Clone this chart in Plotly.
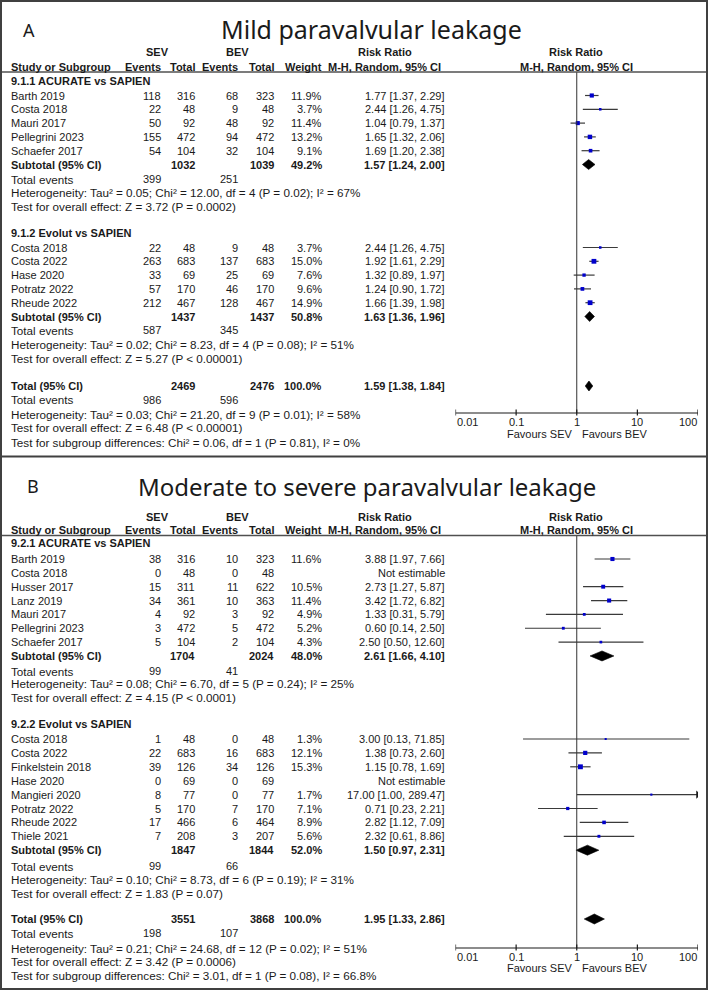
import math
import plotly.graph_objects as go

W, H = 708, 990
BODY = "Liberation Sans, Arial, sans-serif"
TITLEF = "Noto Sans, Open Sans, sans-serif"
TXT = "#1a1a1a"

# ---------------- DATA : Panel A (Mild paravalvular leakage) ----------------
a_title = "Mild paravalvular leakage"
a1_name = "9.1.1 ACURATE vs SAPIEN"
a1_study = ["Barth 2019", "Costa 2018", "Mauri 2017", "Pellegrini 2023", "Schaefer 2017"]
a1_sev_ev = [118, 22, 50, 155, 54]
a1_sev_n = [316, 48, 92, 472, 104]
a1_bev_ev = [68, 9, 48, 94, 32]
a1_bev_n = [323, 48, 92, 472, 104]
a1_w = [11.9, 3.7, 11.4, 13.2, 9.1]
a1_rr = [1.77, 2.44, 1.04, 1.65, 1.69]
a1_lo = [1.37, 1.26, 0.79, 1.32, 1.20]
a1_hi = [2.29, 4.75, 1.37, 2.06, 2.38]
a1_sub_n = [1032, 1039]
a1_sub_w = 49.2
a1_sub_ci = [1.57, 1.24, 2.00]
a1_events = [399, 251]
a1_het = "Heterogeneity: Tau² = 0.05; Chi² = 12.00, df = 4 (P = 0.02); I² = 67%"
a1_test = "Test for overall effect: Z = 3.72 (P = 0.0002)"

a2_name = "9.1.2 Evolut vs SAPIEN"
a2_study = ["Costa 2018", "Costa 2022", "Hase 2020", "Potratz 2022", "Rheude 2022"]
a2_sev_ev = [22, 263, 33, 57, 212]
a2_sev_n = [48, 683, 69, 170, 467]
a2_bev_ev = [9, 137, 25, 46, 128]
a2_bev_n = [48, 683, 69, 170, 467]
a2_w = [3.7, 15.0, 7.6, 9.6, 14.9]
a2_rr = [2.44, 1.92, 1.32, 1.24, 1.66]
a2_lo = [1.26, 1.61, 0.89, 0.90, 1.39]
a2_hi = [4.75, 2.29, 1.97, 1.72, 1.98]
a2_sub_n = [1437, 1437]
a2_sub_w = 50.8
a2_sub_ci = [1.63, 1.36, 1.96]
a2_events = [587, 345]
a2_het = "Heterogeneity: Tau² = 0.02; Chi² = 8.23, df = 4 (P = 0.08); I² = 51%"
a2_test = "Test for overall effect: Z = 5.27 (P < 0.00001)"

a_tot_n = [2469, 2476]
a_tot_ci = [1.59, 1.38, 1.84]
a_tot_events = [986, 596]
a_tot_het = "Heterogeneity: Tau² = 0.03; Chi² = 21.20, df = 9 (P = 0.01); I² = 58%"
a_tot_test = "Test for overall effect: Z = 6.48 (P < 0.00001)"
a_tot_sub = "Test for subgroup differences: Chi² = 0.06, df = 1 (P = 0.81), I² = 0%"

# ---------------- DATA : Panel B (Moderate to severe) ----------------
b_title = "Moderate to severe paravalvular leakage"
b1_name = "9.2.1 ACURATE vs SAPIEN"
b1_study = ["Barth 2019", "Costa 2018", "Husser 2017", "Lanz 2019", "Mauri 2017",
            "Pellegrini 2023", "Schaefer 2017"]
b1_sev_ev = [38, 0, 15, 34, 4, 3, 5]
b1_sev_n = [316, 48, 311, 361, 92, 472, 104]
b1_bev_ev = [10, 0, 11, 10, 3, 5, 2]
b1_bev_n = [323, 48, 622, 363, 92, 472, 104]
b1_w = [11.6, None, 10.5, 11.4, 4.9, 5.2, 4.3]
b1_rr = [3.88, None, 2.73, 3.42, 1.33, 0.60, 2.50]
b1_lo = [1.97, None, 1.27, 1.72, 0.31, 0.14, 0.50]
b1_hi = [7.66, None, 5.87, 6.82, 5.79, 2.50, 12.60]
b1_sub_n = [1704, 2024]
b1_sub_w = 48.0
b1_sub_ci = [2.61, 1.66, 4.10]
b1_events = [99, 41]
b1_het = "Heterogeneity: Tau² = 0.08; Chi² = 6.70, df = 5 (P = 0.24); I² = 25%"
b1_test = "Test for overall effect: Z = 4.15 (P < 0.0001)"

b2_name = "9.2.2 Evolut vs SAPIEN"
b2_study = ["Costa 2018", "Costa 2022", "Finkelstein 2018", "Hase 2020", "Mangieri 2020",
            "Potratz 2022", "Rheude 2022", "Thiele 2021"]
b2_sev_ev = [1, 22, 39, 0, 8, 5, 17, 7]
b2_sev_n = [48, 683, 126, 69, 77, 170, 466, 208]
b2_bev_ev = [0, 16, 34, 0, 0, 7, 6, 3]
b2_bev_n = [48, 683, 126, 69, 77, 170, 464, 207]
b2_w = [1.3, 12.1, 15.3, None, 1.7, 7.1, 8.9, 5.6]
b2_rr = [3.00, 1.38, 1.15, None, 17.00, 0.71, 2.82, 2.32]
b2_lo = [0.13, 0.73, 0.78, None, 1.00, 0.23, 1.12, 0.61]
b2_hi = [71.85, 2.60, 1.69, None, 289.47, 2.21, 7.09, 8.86]
b2_sub_n = [1847, 1844]
b2_sub_w = 52.0
b2_sub_ci = [1.50, 0.97, 2.31]
b2_events = [99, 66]
b2_het = "Heterogeneity: Tau² = 0.10; Chi² = 8.73, df = 6 (P = 0.19); I² = 31%"
b2_test = "Test for overall effect: Z = 1.83 (P = 0.07)"

b_tot_n = [3551, 3868]
b_tot_ci = [1.95, 1.33, 2.86]
b_tot_events = [198, 107]
b_tot_het = "Heterogeneity: Tau² = 0.21; Chi² = 24.68, df = 12 (P = 0.02); I² = 51%"
b_tot_test = "Test for overall effect: Z = 3.42 (P = 0.0006)"
b_tot_sub = "Test for subgroup differences: Chi² = 3.01, df = 1 (P = 0.08), I² = 66.8%"

axis_ticks = [0.01, 0.1, 1, 10, 100]
axis_ticktext = ["0.01", "0.1", "1", "10", "100"]

# ---------------- LAYOUT (pixel positions) ----------------
COL_LABEL, COL_SEV_EV, COL_SEV_N, COL_BEV_EV, COL_BEV_N, COL_W, COL_RR = 10, 162, 196, 239, 275, 323, 446
SEV_C, BEV_C, RR_C, PLOT_C = 157, 237, 385, 576
X_LO_PX, X_HI_PX = 455.5, 698.0
FOOT_SIZE = 11.7

panelA = dict(label=(29, 30), title_xy=(371, 29), title_size=25, hdr1=52, hdr2=67, line=72,
              sg=[dict(head=81, s0=95.5, step=13.8, tot_ev=179, het=192.5, test=206),
                  dict(head=233, s0=247.5, step=13.8, tot_ev=330, het=344, test=358)],
              total=386, tot_ev=399.5, het=414, test=427.5, subdiff=442,
              axis=413, ticklab=422, fav=433.5)
panelB = dict(label=(33, 486), title_xy=(367, 486), title_size=24, hdr1=517, hdr2=530, line=535.5,
              sg=[dict(head=543, s0=559, step=13.85, tot_ev=671, het=683.5, test=697),
                  dict(head=724, s0=739, step=13.9, tot_ev=866, het=879.5, test=893)],
              total=919, tot_ev=933, het=948, test=961, subdiff=975,
              axis=948, ticklab=956.5, fav=968)

def group(name, study, se, sn, be, bn, w, rr, lo, hi, subn, subw, subci, ev, het, test):
    return dict(name=name, study=study, se=se, sn=sn, be=be, bn=bn, w=w, rr=rr, lo=lo, hi=hi,
                subn=subn, subw=subw, subci=subci, ev=ev, het=het, test=test)

A_groups = [group(a1_name, a1_study, a1_sev_ev, a1_sev_n, a1_bev_ev, a1_bev_n, a1_w, a1_rr, a1_lo, a1_hi,
                  a1_sub_n, a1_sub_w, a1_sub_ci, a1_events, a1_het, a1_test),
            group(a2_name, a2_study, a2_sev_ev, a2_sev_n, a2_bev_ev, a2_bev_n, a2_w, a2_rr, a2_lo, a2_hi,
                  a2_sub_n, a2_sub_w, a2_sub_ci, a2_events, a2_het, a2_test)]
B_groups = [group(b1_name, b1_study, b1_sev_ev, b1_sev_n, b1_bev_ev, b1_bev_n, b1_w, b1_rr, b1_lo, b1_hi,
                  b1_sub_n, b1_sub_w, b1_sub_ci, b1_events, b1_het, b1_test),
            group(b2_name, b2_study, b2_sev_ev, b2_sev_n, b2_bev_ev, b2_bev_n, b2_w, b2_rr, b2_lo, b2_hi,
                  b2_sub_n, b2_sub_w, b2_sub_ci, b2_events, b2_het, b2_test)]

fig = go.Figure()
annotations = []
shapes = []

def txt(x, y, s, anchor="left", bold=False, size=11, family=BODY):
    if bold:
        s = "<b>" + s + "</b>"
    annotations.append(dict(x=x / W, y=y, xref="paper", yref="y", text=s, showarrow=False,
                            xanchor=anchor, yanchor="middle", borderpad=0,
                            font=dict(family=family, size=size, color=TXT)))

def hline(y, x0, x1, width=1.5, color="#505050"):
    shapes.append(dict(type="line", xref="paper", yref="y", x0=x0 / W, x1=x1 / W, y0=y, y1=y,
                       line=dict(color=color, width=width)))

def ci_line(rr, lo, hi, y, w):
    top = axis_ticks[-1]
    bot = axis_ticks[0]
    x0 = max(lo, bot)
    x1 = min(hi, top)
    fig.add_trace(go.Scatter(x=[x0, x1], y=[y, y], mode="lines", xaxis="x", yaxis="y",
                             line=dict(color="#3a3a3a", width=1.2), hoverinfo="skip", showlegend=False))
    if hi > top:
        fig.add_trace(go.Scatter(x=[top], y=[y], mode="markers", xaxis="x", yaxis="y",
                                 marker=dict(symbol="triangle-right", size=7, color="#1a1a1a"),
                                 hoverinfo="skip", showlegend=False))
    fig.add_trace(go.Scatter(x=[rr], y=[y], mode="markers", xaxis="x", yaxis="y",
                             marker=dict(symbol="square", size=1.8 + 0.2 * w, color="#0000cc",
                                         line=dict(width=0)),
                             hoverinfo="skip", showlegend=False))

def diamond(ci, y, h=5):
    rr, lo, hi = ci
    fig.add_trace(go.Scatter(x=[lo, rr, hi, rr, lo], y=[y, y - h, y, y + h, y], mode="lines",
                             fill="toself", fillcolor="#000000", xaxis="x", yaxis="y",
                             line=dict(color="#000000", width=0.6), hoverinfo="skip", showlegend=False))

def fmt_ci(ci):
    return "%.2f [%.2f, %.2f]" % (ci[0], ci[1], ci[2])

def draw_panel(P, letter, title, groups, tot_n, tot_ci, tot_ev, tot_het, tot_test, tot_sub):
    lx, ly = P["label"]
    txt(lx, ly, letter, anchor="center", size=18, family=TITLEF)
    tx, ty = P["title_xy"]
    txt(tx, ty, title, anchor="center", size=P["title_size"], family=TITLEF)
    # headers
    txt(SEV_C, P["hdr1"], "SEV", anchor="center", bold=True)
    txt(BEV_C, P["hdr1"], "BEV", anchor="center", bold=True)
    txt(RR_C, P["hdr1"], "Risk Ratio", anchor="center", bold=True)
    txt(PLOT_C, P["hdr1"], "Risk Ratio", anchor="center", bold=True)
    y = P["hdr2"]
    txt(COL_LABEL, y, "Study or Subgroup", bold=True)
    txt(COL_SEV_EV, y, "Events", anchor="right", bold=True)
    txt(COL_SEV_N, y, "Total", anchor="right", bold=True)
    txt(COL_BEV_EV, y, "Events", anchor="right", bold=True)
    txt(COL_BEV_N, y, "Total", anchor="right", bold=True)
    txt(COL_W, y, "Weight", anchor="right", bold=True)
    txt(RR_C, y, "M-H, Random, 95% CI", anchor="center", bold=True)
    txt(PLOT_C, y, "M-H, Random, 95% CI", anchor="center", bold=True)
    hline(P["line"], 0, W)

    for g, pos in zip(groups, P["sg"]):
        txt(COL_LABEL, pos["head"], g["name"], bold=True)
        n = len(g["study"])
        for i in range(n):
            yy = pos["s0"] + pos["step"] * i
            txt(COL_LABEL, yy, g["study"][i])
            txt(COL_SEV_EV, yy, str(g["se"][i]), anchor="right")
            txt(COL_SEV_N, yy, str(g["sn"][i]), anchor="right")
            txt(COL_BEV_EV, yy, str(g["be"][i]), anchor="right")
            txt(COL_BEV_N, yy, str(g["bn"][i]), anchor="right")
            if g["rr"][i] is None:
                txt(COL_RR, yy, "Not estimable", anchor="right")
            else:
                txt(COL_W, yy, "%.1f%%" % g["w"][i], anchor="right")
                txt(COL_RR, yy, fmt_ci([g["rr"][i], g["lo"][i], g["hi"][i]]), anchor="right")
                ci_line(g["rr"][i], g["lo"][i], g["hi"][i], yy, g["w"][i])
        ys = pos["s0"] + pos["step"] * n
        txt(COL_LABEL, ys, "Subtotal (95% CI)", bold=True)
        txt(COL_SEV_N, ys, str(g["subn"][0]), anchor="right", bold=True)
        txt(COL_BEV_N, ys, str(g["subn"][1]), anchor="right", bold=True)
        txt(COL_W, ys, "%.1f%%" % g["subw"], anchor="right", bold=True)
        txt(COL_RR, ys, fmt_ci(g["subci"]), anchor="right", bold=True)
        diamond(g["subci"], ys)
        txt(COL_LABEL, pos["tot_ev"], "Total events", size=FOOT_SIZE)
        txt(COL_SEV_EV, pos["tot_ev"], str(g["ev"][0]), anchor="right")
        txt(COL_BEV_EV, pos["tot_ev"], str(g["ev"][1]), anchor="right")
        txt(COL_LABEL, pos["het"], g["het"], size=FOOT_SIZE)
        txt(COL_LABEL, pos["test"], g["test"], size=FOOT_SIZE)

    y = P["total"]
    txt(COL_LABEL, y, "Total (95% CI)", bold=True)
    txt(COL_SEV_N, y, str(tot_n[0]), anchor="right", bold=True)
    txt(COL_BEV_N, y, str(tot_n[1]), anchor="right", bold=True)
    txt(COL_W, y, "100.0%", anchor="right", bold=True)
    txt(COL_RR, y, fmt_ci(tot_ci), anchor="right", bold=True)
    diamond(tot_ci, y)
    txt(COL_LABEL, P["tot_ev"], "Total events", size=FOOT_SIZE)
    txt(COL_SEV_EV, P["tot_ev"], str(tot_ev[0]), anchor="right")
    txt(COL_BEV_EV, P["tot_ev"], str(tot_ev[1]), anchor="right")
    txt(COL_LABEL, P["het"], tot_het, size=FOOT_SIZE)
    txt(COL_LABEL, P["test"], tot_test, size=FOOT_SIZE)
    txt(COL_LABEL, P["subdiff"], tot_sub, size=FOOT_SIZE)

    # reference line at RR = 1
    fig.add_trace(go.Scatter(x=[1, 1], y=[P["line"], P["axis"]], mode="lines", xaxis="x", yaxis="y",
                             line=dict(color="#333333", width=1), hoverinfo="skip", showlegend=False))
    # axis line and ticks
    ay = P["axis"]
    fig.add_trace(go.Scatter(x=[axis_ticks[0], axis_ticks[-1]], y=[ay, ay], mode="lines",
                             xaxis="x", yaxis="y", line=dict(color="#1a1a1a", width=1.2),
                             hoverinfo="skip", showlegend=False))
    for k, t in enumerate(axis_ticks):
        fig.add_trace(go.Scatter(x=[t, t], y=[ay - 3.5, ay + 2.5], mode="lines", xaxis="x", yaxis="y",
                                 line=dict(color="#1a1a1a", width=1.2), hoverinfo="skip", showlegend=False))
        anc = "left" if k == 0 else ("right" if k == len(axis_ticks) - 1 else "center")
        # annotations on a log axis take log10 positions
        annotations.append(dict(x=math.log10(t), y=P["ticklab"], xref="x", yref="y", text=axis_ticktext[k],
                                showarrow=False, xanchor=anc, yanchor="middle", borderpad=0,
                                font=dict(family=BODY, size=11, color=TXT)))
    annotations.append(dict(x=math.log10(1), y=P["fav"], xref="x", yref="y", text="Favours SEV",
                            showarrow=False, xanchor="right", xshift=-4, yanchor="middle", borderpad=0,
                            font=dict(family=BODY, size=11, color=TXT)))
    annotations.append(dict(x=math.log10(1), y=P["fav"], xref="x", yref="y", text="Favours BEV",
                            showarrow=False, xanchor="left", xshift=4, yanchor="middle", borderpad=0,
                            font=dict(family=BODY, size=11, color=TXT)))

draw_panel(panelA, "A", a_title, A_groups, a_tot_n, a_tot_ci, a_tot_events, a_tot_het, a_tot_test, a_tot_sub)
draw_panel(panelB, "B", b_title, B_groups, b_tot_n, b_tot_ci, b_tot_events, b_tot_het, b_tot_test, b_tot_sub)

# borders
shapes.append(dict(type="rect", xref="paper", yref="y", x0=1 / W, x1=707 / W, y0=1, y1=989,
                   line=dict(color="#404040", width=2)))
hline(456.5, 0, W, width=2, color="#404040")

fig.update_layout(
    width=W, height=H, margin=dict(l=0, r=0, t=0, b=0),
    paper_bgcolor="white", plot_bgcolor="white", showlegend=False,
    xaxis=dict(type="log", range=[-2, 2], domain=[X_LO_PX / W, X_HI_PX / W], visible=False,
               anchor="y", fixedrange=True),
    yaxis=dict(range=[H, 0], domain=[0, 1], visible=False, fixedrange=True),
    annotations=annotations, shapes=shapes,
)
fig.write_html("out.html", config={"displayModeBar": False},
               post_script="document.body.style.margin='0';document.body.style.padding='0';"
                           "document.body.style.overflow='hidden';")
